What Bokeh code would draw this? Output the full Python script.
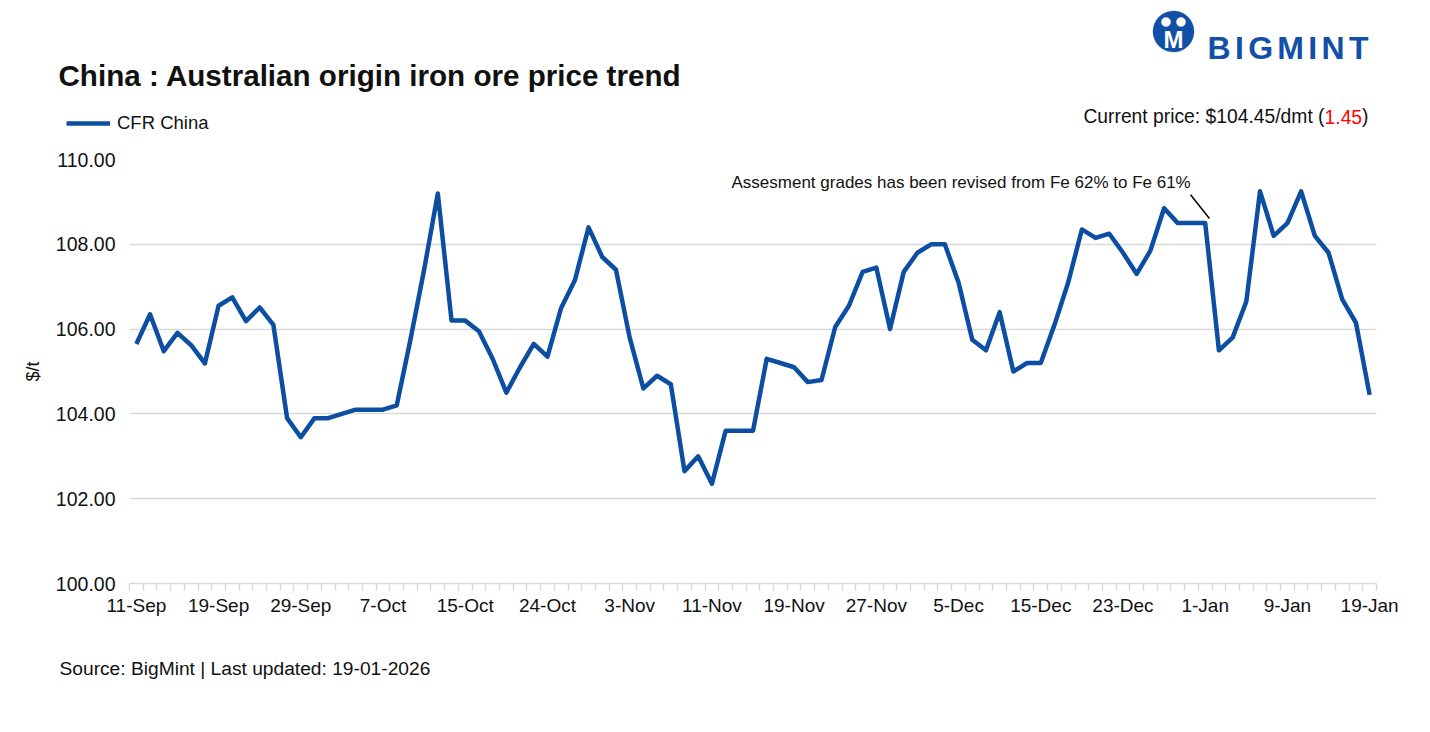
import numpy as np
from bokeh.plotting import figure
from bokeh.layouts import column
from bokeh.models import (ColumnDataSource, Range1d, FixedTicker, PrintfTickFormatter,
                          Label, Legend, LegendItem, PolyAnnotation)
from bokeh.embed import file_html
from bokeh.resources import INLINE

# ---------------- data ----------------
dates = [
    "11-Sep", "12-Sep", "15-Sep", "16-Sep", "17-Sep", "18-Sep", "19-Sep", "22-Sep", "23-Sep", "24-Sep",
    "25-Sep", "26-Sep", "29-Sep", "30-Sep", "1-Oct", "2-Oct", "3-Oct", "6-Oct", "7-Oct", "8-Oct",
    "9-Oct", "10-Oct", "13-Oct", "14-Oct", "15-Oct", "16-Oct", "17-Oct", "20-Oct", "22-Oct", "23-Oct",
    "24-Oct", "27-Oct", "28-Oct", "29-Oct", "30-Oct", "31-Oct", "3-Nov", "4-Nov", "5-Nov", "6-Nov",
    "7-Nov", "10-Nov", "11-Nov", "12-Nov", "13-Nov", "14-Nov", "17-Nov", "18-Nov", "19-Nov", "20-Nov",
    "21-Nov", "24-Nov", "25-Nov", "26-Nov", "27-Nov", "28-Nov", "1-Dec", "2-Dec", "3-Dec", "4-Dec",
    "5-Dec", "8-Dec", "9-Dec", "10-Dec", "11-Dec", "12-Dec", "15-Dec", "16-Dec", "17-Dec", "18-Dec",
    "19-Dec", "22-Dec", "23-Dec", "24-Dec", "26-Dec", "29-Dec", "30-Dec", "31-Dec", "1-Jan", "2-Jan",
    "5-Jan", "6-Jan", "7-Jan", "8-Jan", "9-Jan", "12-Jan", "13-Jan", "14-Jan", "15-Jan", "16-Jan",
    "19-Jan",
]
cfr_china = [
    105.65, 106.35, 105.48, 105.91, 105.62, 105.19, 106.55, 106.75, 106.19, 106.51,
    106.10, 103.90, 103.45, 103.90, 103.90, 104.00, 104.10, 104.10, 104.10, 104.20,
    105.75, 107.40, 109.20, 106.20, 106.20, 105.95, 105.30, 104.50, 105.10, 105.65,
    105.35, 106.50, 107.15, 108.40, 107.70, 107.40, 105.80, 104.60, 104.90, 104.70,
    102.65, 103.00, 102.35, 103.60, 103.60, 103.60, 105.30, 105.20, 105.10, 104.75,
    104.80, 106.05, 106.55, 107.35, 107.45, 106.00, 107.35, 107.80, 108.00, 108.00,
    107.10, 105.75, 105.50, 106.40, 105.00, 105.20, 105.20, 106.10, 107.10, 108.35,
    108.15, 108.25, 107.80, 107.30, 107.85, 108.85, 108.50, 108.50, 108.50, 105.50,
    105.80, 106.65, 109.25, 108.20, 108.50, 109.25, 108.20, 107.80, 106.70, 106.15,
    104.45,
]
label_step = 6
y_ticks = [100, 102, 104, 106, 108, 110]
price_change = "1.45"
note_index = 78
note_text = "Assesment grades has been revised from Fe 62% to Fe 61%"

# ---------------- styling ----------------
FONT = "Liberation Sans"
BLUE = "#0B4EA2"
LOGO = "#1150A6"
GRID = "#d9d9d9"
TXT = "#111111"

W = 1414
H_HEAD, H_MAIN, H_FOOT = 140, 500, 60
FL, FT, FR, FB = 129, 159, 1376, 583  # frame edges in page pixels

idx = list(range(len(cfr_china)))
src = ColumnDataSource(dict(x=idx, y=cfr_china, d=dates))


def blank(height):
    f = figure(width=W, height=height, x_range=Range1d(0, W), y_range=Range1d(height, 0),
               output_backend="svg", toolbar_location=None, x_axis_type=None, y_axis_type=None,
               min_border=0)
    f.frame_align = False
    f.outline_line_color = None
    f.xgrid.visible = False
    f.ygrid.visible = False
    return f


def lab(fig, text, x, y, size, align="left", color=TXT, style="normal", baseline="middle"):
    fig.add_layout(Label(x=x, y=y, text=text, text_font=FONT, text_font_size=size,
                         text_color=color, text_font_style=style, text_align=align,
                         text_baseline=baseline))


# ---------------- header ----------------
head = blank(H_HEAD)
lab(head, "China : Australian origin iron ore price trend", 58, 75, "29.6px", style="bold")

cp_y = 116
cp_size = 19.3
w_close = 0.333 * cp_size
w_change = 1.946 * cp_size
lab(head, ")", 1368, cp_y, "%.1fpx" % cp_size, align="right")
lab(head, price_change, 1368 - w_close, cp_y, "%.1fpx" % cp_size, align="right", color="#ff0000")
lab(head, "Current price: $%.2f/dmt (" % cfr_china[-1], 1368 - w_close - w_change, cp_y,
    "%.1fpx" % cp_size, align="right")

key = head.line("x", "y", source=src, line_width=4.5, line_color=BLUE, visible=False)
legend = Legend(items=[LegendItem(label="CFR China", renderers=[key])],
                location=(66, H_HEAD - 134), orientation="horizontal",
                glyph_width=44, glyph_height=22, label_height=22, label_standoff=7,
                padding=0, margin=0, spacing=0, border_line_color=None,
                background_fill_alpha=0, inactive_fill_alpha=0, label_text_font=FONT,
                label_text_font_size="18.5px", label_text_color=TXT)
head.add_layout(legend)

# logo
cx, cy, rr = 1173.0, 31.0, 20.5
t = np.linspace(0, 2 * np.pi, 72)
head.add_layout(PolyAnnotation(xs=list(cx + rr * np.cos(t)), ys=list(cy + rr * np.sin(t)),
                               fill_color=LOGO, fill_alpha=1, line_color=LOGO))
for hx in (cx - 7.5, cx + 7.5):
    head.add_layout(PolyAnnotation(xs=list(hx + 4.6 * np.cos(t)), ys=list(cy - 9.5 + 4.6 * np.sin(t)),
                                   fill_color="white", fill_alpha=1, line_color="white"))
lab(head, "M", cx, cy + 8, "24px", align="center", color="white", style="bold")

letters = "BIGMINT"
widths = [0.722, 0.278, 0.778, 0.833, 0.278, 0.722, 0.611]
size = 32.0
gap = (161 - sum(widths) * size) / 6
x0 = 1207
for ch, w in zip(letters, widths):
    lab(head, ch, x0, 47, "%.1fpx" % size, color=LOGO, style="bold", baseline="alphabetic")
    x0 += w * size + gap

# ---------------- main chart ----------------
p = figure(width=W, height=H_MAIN, x_range=Range1d(-0.5, len(idx) - 0.5), y_range=Range1d(100, 110),
           output_backend="svg", toolbar_location=None,
           min_border_left=FL, min_border_right=W - FR,
           min_border_top=FT - H_HEAD, min_border_bottom=H_HEAD + H_MAIN - FB)
p.frame_align = False
p.outline_line_color = None

r = p.line("x", "y", source=src, line_width=4.5, line_color=BLUE, line_join="round")

p.xgrid.visible = False
p.ygrid.ticker = FixedTicker(ticks=y_ticks)
p.ygrid.grid_line_color = GRID
p.ygrid.grid_line_width = 1.5

xa = p.xaxis[0]
xa.ticker = FixedTicker(ticks=list(range(0, len(idx), label_step)),
                        minor_ticks=[i - 0.5 for i in range(len(idx) + 1)])
xa.major_label_overrides = {i: dates[i] for i in range(0, len(idx), label_step)}
xa.axis_line_color = GRID
xa.axis_line_width = 1.5
xa.major_tick_out = 0
xa.major_tick_in = 0
xa.minor_tick_line_color = GRID
xa.minor_tick_line_width = 1.5
xa.minor_tick_out = 7
xa.minor_tick_in = 0
xa.major_label_standoff = 4
xa.major_label_text_font = FONT
xa.major_label_text_font_size = "19px"
xa.major_label_text_color = TXT

ya = p.yaxis[0]
ya.ticker = FixedTicker(ticks=y_ticks)
ya.formatter = PrintfTickFormatter(format="%.2f")
ya.axis_line_color = None
ya.major_tick_line_color = None
ya.minor_tick_line_color = None
ya.major_label_standoff = 8
ya.major_label_text_font = FONT
ya.major_label_text_font_size = "19.5px"
ya.major_label_text_color = TXT
ya.axis_label = "$/t"
ya.axis_label_text_font = FONT
ya.axis_label_text_font_style = "normal"
ya.axis_label_text_font_size = "18px"
ya.axis_label_text_color = TXT
ya.axis_label_standoff = 10

# annotation inside the plot area
p.add_layout(Label(x=731 - FL, y=FB - 182, x_units="screen", y_units="screen", text=note_text,
                   text_font=FONT, text_font_size="17px", text_color=TXT,
                   text_align="left", text_baseline="middle"))
nx, nv = note_index, cfr_china[note_index]
p.segment(x0=[nx - 1.07], y0=[nv + 0.67], x1=[nx + 0.31], y1=[nv + 0.11],
          line_color="black", line_width=1.5)

# ---------------- footer ----------------
foot = blank(H_FOOT)
lab(foot, "Source: BigMint | Last updated: 19-01-2026", 59, 668 - (H_HEAD + H_MAIN), "19.2px")

layout = column(head, p, foot, spacing=0)
open("out.html", "w").write(file_html(layout, INLINE))
